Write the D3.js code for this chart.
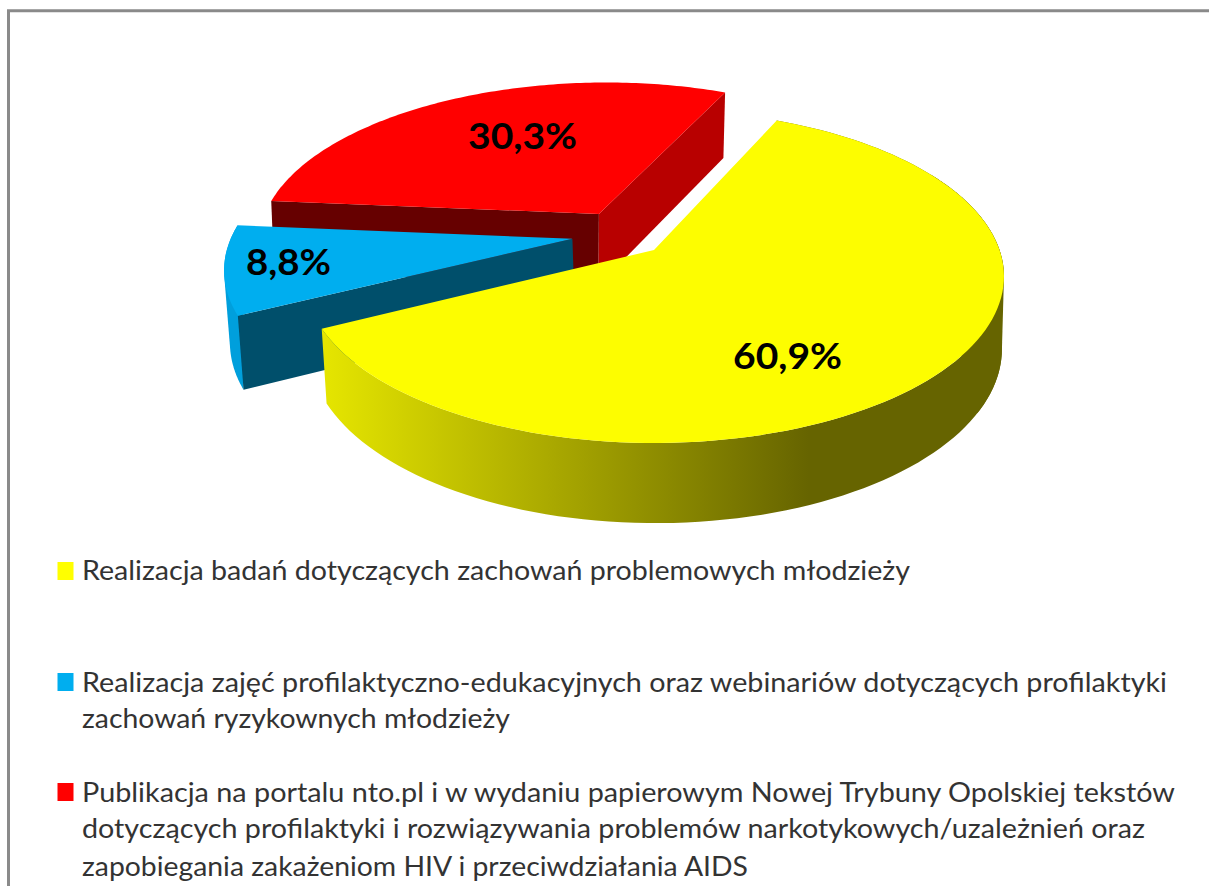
<!DOCTYPE html>
<html><head><meta charset="utf-8">
<script src="https://cdn.jsdelivr.net/npm/d3@7/dist/d3.min.js"></script>
<style>html,body{margin:0;padding:0;background:#fff}svg{display:block}</style>
</head><body><div id="chart"></div>
<script>
const categories = ["Realizacja badań dotyczących zachowań problemowych młodzieży",
  "Realizacja zajęć profilaktyczno-edukacyjnych oraz webinariów dotyczących profilaktyki zachowań ryzykownych młodzieży",
  "Publikacja na portalu nto.pl i w wydaniu papierowym Nowej Trybuny Opolskiej tekstów dotyczących profilaktyki i rozwiązywania problemów narkotykowych/uzależnień oraz zapobiegania zakażeniom HIV i przeciwdziałania AIDS"];
const values = [60.9, 8.8, 30.3];
const valueLabels = ["60,9%", "8,8%", "30,3%"];
const topColors = ["#fdfd00", "#00aeef", "#ff0000"];
const legendColors = ["#ffff00", "#00aeef", "#ff0000"];
const legendLines = [
  ["Realizacja badań dotyczących zachowań problemowych młodzieży"],
  ["Realizacja zajęć profilaktyczno-edukacyjnych oraz webinariów dotyczących profilaktyki", "zachowań ryzykownych młodzieży"],
  ["Publikacja na portalu nto.pl i w wydaniu papierowym Nowej Trybuny Opolskiej tekstów", "dotyczących profilaktyki i rozwiązywania problemów narkotykowych/uzależnień oraz", "zapobiegania zakażeniom HIV i przeciwdziałania AIDS"]
];

const W = 1209, H = 886;
const svg = d3.select("#chart").append("svg").attr("width", W).attr("height", H);
const defs = svg.append("defs");

// frame
svg.append("path").attr("d", `M8.5,${H} V10.8 H${W}`).attr("fill", "none").attr("stroke", "#8a8a8a").attr("stroke-width", 3);

// perspective disc: a top plane and a bottom plane
const k = 0.159, explode = 0.14;
const topPlane = {X: 654, A: 345.5, B: 162.3, Y: 250}, botPlane = {X: 655.5, A: 342, B: 170, Y: 321};
const project = (p, u, v, n) => {
  const d = p === topPlane && n ? n : [0, 0];
  return [p.X + p.A * u / (1 + k * v) + d[0], p.Y - p.B * v / (1 + k * v) + d[1]];
};

const pie = d3.pie().sort(null).value(d => d).startAngle(24 * Math.PI / 180).endAngle((24 + 360) * Math.PI / 180);
const arcs = pie(values);
const yMid = (arcs[0].startAngle + arcs[0].endAngle) / 2;
const origin = [-explode * Math.sin(yMid), -explode * Math.cos(yMid)];
const nudges = [[0, 0], [0, 0], [2.5, -2]];
const slices = arcs.map((a, i) => {
  const m = (a.startAngle + a.endAngle) / 2;
  return {a, n: nudges[i], c: [origin[0] + explode * Math.sin(m), origin[1] + explode * Math.cos(m)]};
});
const line = d3.line();
const rim = (s, p, a0, a1) => d3.range(0, 121).map(i => {
  const t = a0 + (a1 - a0) * i / 120;
  return project(p, s.c[0] + Math.sin(t), s.c[1] + Math.cos(t), s.n);
});
const apex = (s, p) => project(p, s.c[0], s.c[1], s.n);
const topFace = s => line([apex(s, topPlane), ...rim(s, topPlane, s.a.startAngle, s.a.endAngle)]) + "Z";
const radialWall = (s, ang) => line([
  apex(s, topPlane),
  project(topPlane, s.c[0] + Math.sin(ang), s.c[1] + Math.cos(ang), s.n),
  project(botPlane, s.c[0] + Math.sin(ang), s.c[1] + Math.cos(ang), s.n),
  apex(s, botPlane)]) + "Z";
const outerWall = (s, a0, a1) => line([...rim(s, topPlane, a0, a1), ...rim(s, botPlane, a0, a1).reverse()]) + "Z";
const hullWall = (s, a0, a1) => line(d3.polygonHull([...rim(s, topPlane, a0, a1), ...rim(s, botPlane, a0, a1)])) + "Z";

const [yellow, blue, red] = slices;
const rad = Math.PI / 180;

// yellow side gradient
const leftX = project(topPlane, yellow.c[0] + Math.sin(yellow.a.endAngle), yellow.c[1] + Math.cos(yellow.a.endAngle))[0];
const grad = defs.append("linearGradient").attr("id", "ySide").attr("gradientUnits", "userSpaceOnUse")
  .attr("x1", leftX).attr("x2", leftX + 487).attr("y1", 0).attr("y2", 0);
grad.append("stop").attr("offset", 0).attr("stop-color", "#e6e600");
grad.append("stop").attr("offset", 1).attr("stop-color", "#666400");

const g = svg.append("g");
// red
g.append("path").attr("d", radialWall(red, red.a.startAngle)).attr("fill", "#660000");
g.append("path").attr("d", radialWall(red, red.a.endAngle)).attr("fill", "#b80000");
g.append("path").attr("d", topFace(red)).attr("fill", topColors[2]);
// blue
g.append("path").attr("d", hullWall(blue, blue.a.startAngle, blue.a.endAngle)).attr("fill", "#009fdc");
g.append("path").attr("d", radialWall(blue, blue.a.startAngle)).attr("fill", "#004f6b");
g.append("path").attr("d", topFace(blue)).attr("fill", topColors[1]);
// yellow
g.append("path").attr("d", outerWall(yellow, yellow.a.startAngle, yellow.a.endAngle)).attr("fill", "url(#ySide)");
g.append("path").attr("d", hullWall(yellow, 60 * rad, 120 * rad)).attr("fill", "url(#ySide)");
g.append("path").attr("d", topFace(yellow)).attr("fill", topColors[0]);

// value labels
const labelPos = [[787.5, 369], [288.5, 275], [522.5, 149]];
const labelW = [109, 85, 109];
svg.selectAll("text.v").data(valueLabels).join("text").attr("class", "v")
  .attr("x", (d, i) => labelPos[i][0]).attr("y", (d, i) => labelPos[i][1])
  .attr("text-anchor", "middle")
  .attr("font-family", "Lato, 'Open Sans', sans-serif").attr("font-weight", 700).attr("font-size", 37)
  .attr("textLength", (d, i) => labelW[i]).attr("lengthAdjust", "spacingAndGlyphs")
  .attr("fill", "#000").text(d => d);

// legend
const swatchY = [562, 673, 783];
const lineY = [[580], [692, 728], [802, 838, 876]];
const lineW = [[828], [1085, 428], [1093, 1063, 666]];
const leg = svg.append("g");
legendLines.forEach((ls, i) => {
  leg.append("rect").attr("x", 57.5).attr("y", swatchY[i]).attr("width", 16).attr("height", 18).attr("fill", legendColors[i]);
  ls.forEach((t, j) => {
    leg.append("text").attr("x", 82).attr("y", lineY[i][j])
      .attr("font-family", "Lato, 'Open Sans', sans-serif").attr("font-size", 27).attr("fill", "#333")
      .attr("textLength", lineW[i][j]).attr("lengthAdjust", "spacingAndGlyphs").text(t);
  });
});
</script></body></html>
